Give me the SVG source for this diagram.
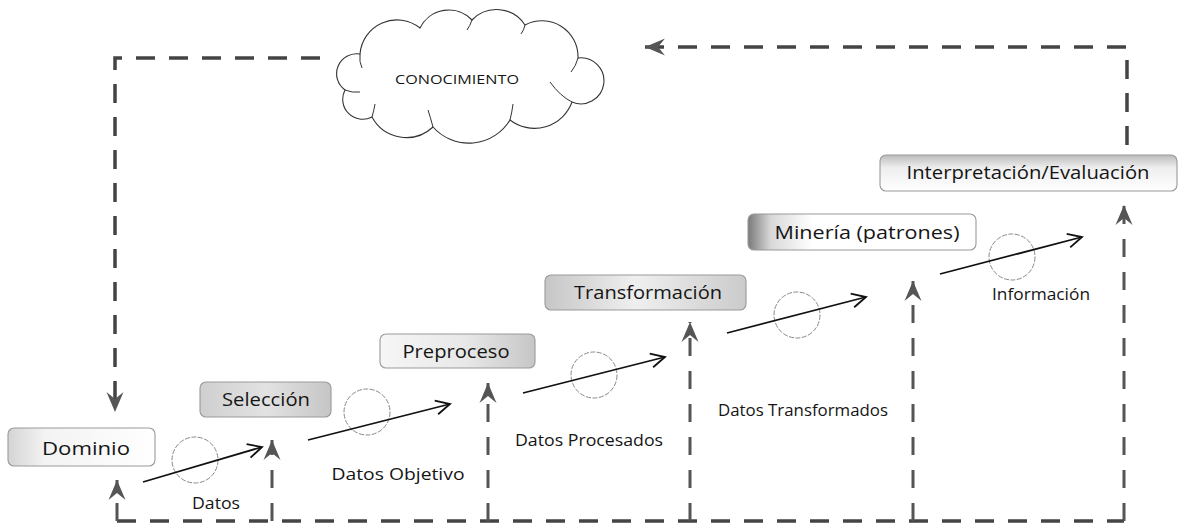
<svg xmlns="http://www.w3.org/2000/svg" width="1184" height="526" viewBox="0 0 1184 526">
<style>
.box{stroke:#9a9a9a;stroke-width:1.1}
.lbl{font-family:"Open Sans","Liberation Sans",sans-serif;font-size:19px;font-weight:400;fill:#151515;text-anchor:middle}
.sub{font-family:"Open Sans","Liberation Sans",sans-serif;font-size:16.5px;font-weight:400;fill:#151515;text-anchor:middle}
.dash{fill:none;stroke:#444;stroke-width:3.5;stroke-dasharray:19 14}
.dashv{fill:none;stroke:#555;stroke-width:3;stroke-dasharray:18 15}
.flow{fill:none;stroke:#111;stroke-width:1.8}
.ring{fill:none;stroke:#888;stroke-width:1;stroke-dasharray:5 1.5}
.cloud{fill:#fff;stroke:#333;stroke-width:1.1}
</style>
<defs>
<linearGradient id="gDom" x1="0" y1="0" x2="1" y2="0"><stop offset="0" stop-color="#d4d4d4"/><stop offset="0.25" stop-color="#f3f3f3"/><stop offset="1" stop-color="#fff"/></linearGradient>
<linearGradient id="gSel" x1="0" y1="0" x2="1" y2="0"><stop offset="0" stop-color="#cfcfcf"/><stop offset="0.5" stop-color="#e2e2e2"/><stop offset="1" stop-color="#c6c6c6"/></linearGradient>
<linearGradient id="gPre" x1="0" y1="0" x2="1" y2="0"><stop offset="0" stop-color="#f6f6f6"/><stop offset="0.55" stop-color="#e8e8e8"/><stop offset="1" stop-color="#c6c6c6"/></linearGradient>
<linearGradient id="gTra" x1="0" y1="0" x2="1" y2="0"><stop offset="0" stop-color="#c6c6c6"/><stop offset="0.45" stop-color="#efefef"/><stop offset="1" stop-color="#cbcbcb"/></linearGradient>
<linearGradient id="gMin" x1="0" y1="0" x2="1" y2="0"><stop offset="0" stop-color="#7a7a7a"/><stop offset="0.1" stop-color="#d8d8d8"/><stop offset="0.28" stop-color="#fff"/><stop offset="1" stop-color="#fff"/></linearGradient>
<linearGradient id="gInt" x1="0" y1="0" x2="0" y2="1"><stop offset="0" stop-color="#bcbcbc"/><stop offset="0.35" stop-color="#eeeeee"/><stop offset="1" stop-color="#fff"/></linearGradient>
<marker id="open" markerUnits="userSpaceOnUse" viewBox="-16 -9 18 18" refX="0" refY="0" markerWidth="18" markerHeight="18" orient="auto" overflow="visible">
<path d="M-14,-7 L0,0 L-14,7" fill="none" stroke="#111" stroke-width="1.8"/>
</marker>
<marker id="chev" markerUnits="userSpaceOnUse" viewBox="-22 -10 24 20" refX="0" refY="0" markerWidth="24" markerHeight="20" orient="auto" overflow="visible">
<path d="M0,0 L-20,-8.5 L-13,0 L-20,8.5 Z" fill="#555"/>
</marker>
</defs>
<rect width="1184" height="526" fill="#fff"/>

<g id="connectors">
<path class="dash" d="M320,58 L115,58 L115,412" marker-end="url(#chev)"/>
<path class="dash" d="M1127,145 L1127,47 L645,47" marker-end="url(#chev)"/>
<path class="dash" d="M117,521 L1124,521"/>
<path class="dashv" d="M117,521 L117,480" marker-end="url(#chev)"/>
<path class="dashv" d="M272,521 L272,440" marker-end="url(#chev)"/>
<path class="dashv" d="M488,521 L488,383" marker-end="url(#chev)"/>
<path class="dashv" d="M690,521 L690,322" marker-end="url(#chev)"/>
<path class="dashv" d="M913,521 L913,281" marker-end="url(#chev)"/>
<path class="dashv" d="M1124,521 L1124,205" marker-end="url(#chev)"/>
<circle class="ring" cx="195" cy="460" r="23"/>
<path class="flow" d="M143,482 L262,447" marker-end="url(#open)"/>
<circle class="ring" cx="367" cy="412" r="23"/>
<path class="flow" d="M308,440 L450,404" marker-end="url(#open)"/>
<circle class="ring" cx="594" cy="375" r="23"/>
<path class="flow" d="M523,393 L665,357" marker-end="url(#open)"/>
<circle class="ring" cx="797" cy="315" r="23"/>
<path class="flow" d="M727,333 L866,297" marker-end="url(#open)"/>
<circle class="ring" cx="1012" cy="257" r="23"/>
<path class="flow" d="M940,274 L1082,237" marker-end="url(#open)"/>
<text class="sub" x="216" y="509" textLength="48" lengthAdjust="spacingAndGlyphs">Datos</text>
<text class="sub" x="398" y="480" textLength="133" lengthAdjust="spacingAndGlyphs">Datos Objetivo</text>
<text class="sub" x="589" y="446" textLength="148" lengthAdjust="spacingAndGlyphs">Datos Procesados</text>
<text class="sub" x="803" y="416" textLength="170" lengthAdjust="spacingAndGlyphs">Datos Transformados</text>
<text class="sub" x="1041" y="300" textLength="98" lengthAdjust="spacingAndGlyphs">Información</text>
</g>

<g id="conocimiento">
<path class="cloud" d="M345,90 A20,20 0 0 1 360,54 A37,37 0 0 1 420,28 A32,32 0 0 1 472,20 A34,34 0 0 1 525,25 A36,36 0 0 1 578,58 A23,23 0 1 1 572,102 A40,40 0 0 1 510,120 A48,48 0 0 1 433,127 A39,39 0 0 1 372,117 A20,20 0 0 1 345,90 Z"/>
<path d="M345,90 Q352,93 360,92 M360,54 Q359,62 362,68 M472,20 Q470,26 467,30 M525,25 Q524,30 521,34 M578,58 Q576,66 571,72 M572,102 Q560,96 550,82 M510,120 Q512,112 513,104 M433,127 Q430,116 428,110 M372,117 Q374,110 375,104" fill="none" stroke="#333" stroke-width="1"/>
<text x="457" y="84" font-family="'Open Sans','Liberation Sans',sans-serif" font-size="12.5" fill="#151515" text-anchor="middle" textLength="124" lengthAdjust="spacingAndGlyphs">CONOCIMIENTO</text>
</g>

<g id="dominio">
<rect class="box" x="8" y="428" width="147" height="38" rx="6" fill="url(#gDom)"/>
<text class="lbl" x="86" y="455" textLength="88" lengthAdjust="spacingAndGlyphs">Dominio</text>
</g>
<g id="seleccion">
<rect class="box" x="200" y="382" width="131" height="35" rx="6" fill="url(#gSel)"/>
<text class="lbl" x="266" y="406" textLength="88" lengthAdjust="spacingAndGlyphs">Selección</text>
</g>
<g id="preproceso">
<rect class="box" x="380" y="334" width="155" height="34" rx="6" fill="url(#gPre)"/>
<text class="lbl" x="456" y="358" textLength="107" lengthAdjust="spacingAndGlyphs">Preproceso</text>
</g>
<g id="transformacion">
<rect class="box" x="545" y="275" width="201" height="35" rx="6" fill="url(#gTra)"/>
<text class="lbl" x="648" y="299" textLength="148" lengthAdjust="spacingAndGlyphs">Transformación</text>
</g>
<g id="mineria">
<rect class="box" x="748" y="214" width="228" height="36" rx="6" fill="url(#gMin)"/>
<text class="lbl" x="867" y="239" textLength="185" lengthAdjust="spacingAndGlyphs">Minería (patrones)</text>
</g>
<g id="interpretacion">
<rect class="box" x="880" y="155" width="297" height="36" rx="6" fill="url(#gInt)"/>
<text class="lbl" x="1028" y="179" textLength="243" lengthAdjust="spacingAndGlyphs">Interpretación/Evaluación</text>
</g>
</svg>
